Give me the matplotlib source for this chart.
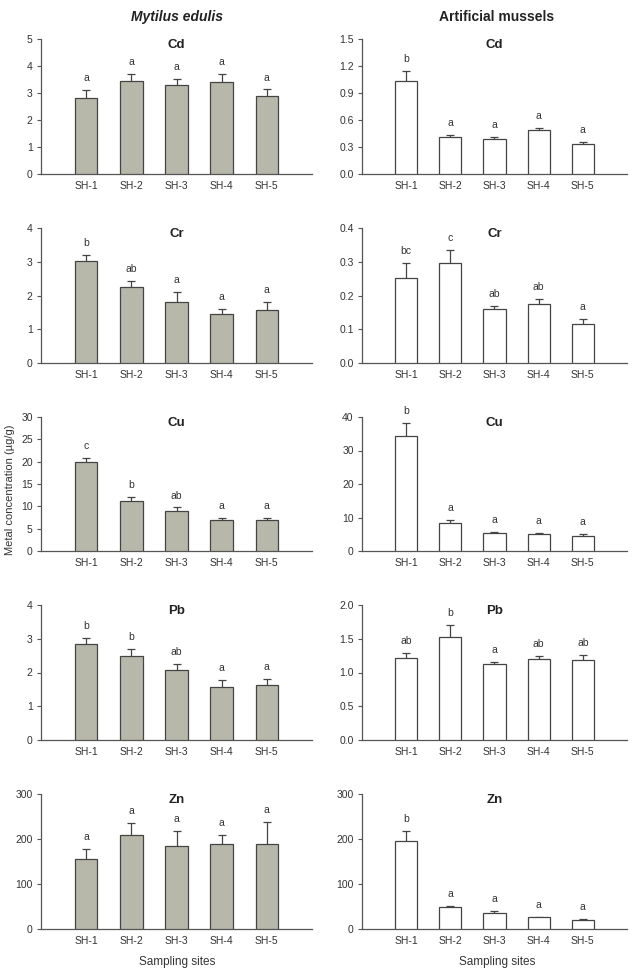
import numpy as np
import matplotlib
matplotlib.use("Agg")
import matplotlib.pyplot as plt

plt.rcParams['font.family'] = ['Liberation Sans', 'DejaVu Sans']

sites = ["SH-1", "SH-2", "SH-3", "SH-4", "SH-5"]
metals = ["Cd", "Cr", "Cu", "Pb", "Zn"]

# Mytilus edulis: means and standard errors
mus_cd = [2.83, 3.44, 3.28, 3.40, 2.88]
mus_cd_se = [0.28, 0.25, 0.23, 0.29, 0.25]
mus_cr = [3.03, 2.24, 1.80, 1.46, 1.57]
mus_cr_se = [0.16, 0.19, 0.30, 0.13, 0.25]
mus_cu = [19.95, 11.17, 8.94, 7.0, 7.0]
mus_cu_se = [0.95, 0.83, 0.81, 0.45, 0.45]
mus_pb = [2.84, 2.48, 2.07, 1.58, 1.63]
mus_pb_se = [0.19, 0.22, 0.19, 0.19, 0.19]
mus_zn = [155, 208, 184, 190, 190]
mus_zn_se = [22, 27, 33, 20, 48]

mus_letters = [
    ["a", "a", "a", "a", "a"],
    ["b", "ab", "a", "a", "a"],
    ["c", "b", "ab", "a", "a"],
    ["b", "b", "ab", "a", "a"],
    ["a", "a", "a", "a", "a"],
]

# Artificial mussels
art_cd = [1.03, 0.41, 0.394, 0.494, 0.338]
art_cd_se = [0.11, 0.024, 0.022, 0.015, 0.018]
art_cr = [0.253, 0.296, 0.159, 0.176, 0.115]
art_cr_se = [0.043, 0.040, 0.011, 0.013, 0.015]
art_cu = [34.4, 8.44, 5.46, 5.16, 4.57]
art_cu_se = [3.7, 0.69, 0.30, 0.20, 0.39]
art_pb = [1.22, 1.52, 1.12, 1.20, 1.18]
art_pb_se = [0.07, 0.19, 0.03, 0.05, 0.08]
art_zn = [196, 49, 36.5, 26, 21]
art_zn_se = [22, 2, 4.5, 1.5, 1.3]

art_letters = [
    ["b", "a", "a", "a", "a"],
    ["bc", "c", "ab", "ab", "a"],
    ["b", "a", "a", "a", "a"],
    ["ab", "b", "a", "ab", "ab"],
    ["b", "a", "a", "a", "a"],
]

mus_vals = [mus_cd, mus_cr, mus_cu, mus_pb, mus_zn]
mus_errs = [mus_cd_se, mus_cr_se, mus_cu_se, mus_pb_se, mus_zn_se]
art_vals = [art_cd, art_cr, art_cu, art_pb, art_zn]
art_errs = [art_cd_se, art_cr_se, art_cu_se, art_pb_se, art_zn_se]

mus_ticks = [np.arange(0, 5.1, 1), np.arange(0, 4.1, 1), np.arange(0, 30.1, 5),
             np.arange(0, 4.1, 1), np.arange(0, 301, 100)]
art_ticks = [np.arange(0, 1.51, 0.3), np.arange(0, 0.41, 0.1), np.arange(0, 40.1, 10),
             np.arange(0, 2.01, 0.5), np.arange(0, 301, 100)]
mus_fmt = ["{:.0f}"] * 5
art_fmt = ["{:.1f}", "{:.1f}", "{:.0f}", "{:.1f}", "{:.0f}"]

W, H = 637, 973
fig = plt.figure(figsize=(W / 100, H / 100), dpi=100)

rows_px = [(39, 174), (228, 363), (417, 551), (605, 740), (794, 929)]
cols_px = [(41, 312), (362, 627)]

axis_col = "#555555"
text_col = "#333333"


def draw_panel(ax, vals, errs, letters, ticks, fmt, metal, face):
    x = np.arange(len(sites))
    ax.bar(x, vals, width=0.5, color=face, edgecolor="#444444", linewidth=0.9, zorder=3)
    ax.errorbar(x, vals, yerr=errs, fmt="none", ecolor="#444444", elinewidth=0.9,
                capsize=3, capthick=0.9, zorder=2)
    for xi, v, e, lab in zip(x, vals, errs, letters):
        ax.annotate(lab, (xi, v + e), xytext=(0, 5), textcoords="offset points",
                    ha="center", va="bottom", fontsize=7.5, color=text_col)
    ax.set_xlim(-1, 5)
    ax.set_ylim(ticks[0], ticks[-1])
    ax.set_yticks(ticks)
    ax.set_yticklabels([fmt.format(t) for t in ticks])
    ax.set_xticks(x)
    ax.set_xticklabels(sites)
    ax.tick_params(axis="x", length=0, pad=5, labelsize=7.5, colors=text_col)
    ax.tick_params(axis="y", length=3, width=0.8, direction="out", pad=3,
                   labelsize=7.5, colors=text_col, color=axis_col)
    for s in ["top", "right"]:
        ax.spines[s].set_visible(False)
    for s in ["left", "bottom"]:
        ax.spines[s].set_color(axis_col)
        ax.spines[s].set_linewidth(0.9)
    ax.text(0.5, 0.955, metal, transform=ax.transAxes, ha="center", va="center",
            fontsize=9.5, fontweight="bold", color="#222222")


for r, (top, bot) in enumerate(rows_px):
    for c, (l, rr) in enumerate(cols_px):
        ax = fig.add_axes([l / W, 1 - bot / H, (rr - l) / W, (bot - top) / H])
        if c == 0:
            draw_panel(ax, mus_vals[r], mus_errs[r], mus_letters[r], mus_ticks[r],
                       mus_fmt[r], metals[r], "#b8b8aa")
        else:
            draw_panel(ax, art_vals[r], art_errs[r], art_letters[r], art_ticks[r],
                       art_fmt[r], metals[r], "white")

fig.text(177 / W, 1 - 17 / H, "Mytilus edulis", ha="center", va="center",
         fontsize=10, fontweight="bold", fontstyle="italic", color="#222222")
fig.text(497 / W, 1 - 17 / H, "Artificial mussels", ha="center", va="center",
         fontsize=10, fontweight="bold", color="#222222")
fig.text(10 / W, 1 - 490 / H, "Metal concentration (\u00b5g/g)", rotation=90,
         ha="center", va="center", fontsize=8, color=text_col)
fig.text(177 / W, 1 - 962 / H, "Sampling sites", ha="center", va="center",
         fontsize=8.5, color=text_col)
fig.text(497 / W, 1 - 962 / H, "Sampling sites", ha="center", va="center",
         fontsize=8.5, color=text_col)

fig.savefig("out.png", dpi=100)
